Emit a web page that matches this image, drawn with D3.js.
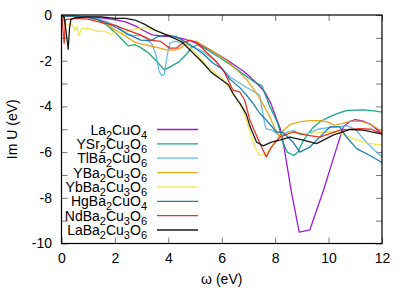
<!DOCTYPE html>
<html>
<head>
<meta charset="utf-8">
<script src="https://cdn.jsdelivr.net/npm/d3@7"></script>
<style>
body { margin: 0; background: #fff; }
svg { font-family: "Liberation Sans", Arial, sans-serif; }
</style>
</head>
<body>
<div id="chart"></div>
<script>
const width = 407,
height = 290,
margin = { top: 15, right: 25, bottom: 46.5, left: 61.5 };

// series labels (digits become subscripts) and gnuplot colours
const names = ["La2CuO4", "YSr2Cu3O6", "TlBa2CuO6", "YBa2Cu3O6", "YbBa2Cu3O6", "HgBa2CuO4", "NdBa2Cu3O6", "LaBa2Cu3O6"];
const colors = ["#9400d3", "#009e73", "#56b4e9", "#e69f00", "#f0e442", "#0072b2", "#e51e10", "#000000"];

const xTicks = [0, 2, 4, 6, 8, 10, 12];
const yTicks = [-10, -9, -8, -7, -6, -5, -4, -3, -2, -1, 0];

// [omega (eV), Im U (eV)]
const la2cuo4 = [[0,0],[0.05,-0.3],[0.1,-0.05],[0.5,-0.05],[1,-0.08],[1.5,-0.12],[2,-0.2],[2.4,-0.3],[2.8,-0.5],[3.1,-0.7],[3.4,-0.87],[3.8,-0.93],[4.1,-0.95],[4.6,-1.05],[5.2,-1.3],[5.6,-1.55],[6.2,-1.97],[6.8,-2.45],[7.1,-2.75],[7.4,-3.1],[7.6,-3.35],[7.85,-3.9],[8.05,-4.55],[8.2,-5.0],[8.35,-5.9],[8.6,-7.7],[8.9,-9.5],[9.3,-9.4],[9.8,-7.7],[10.2,-6.2],[10.55,-4.9],[10.8,-4.65],[11.0,-4.58],[11.3,-4.65],[11.6,-4.8],[12,-5.2]];
const ysr2cu3o6 = [[0,0],[0.1,-0.05],[0.5,-0.05],[1.0,-0.1],[1.35,-0.2],[1.7,-0.45],[2.0,-0.75],[2.25,-1.05],[2.5,-1.35],[2.75,-1.3],[3.0,-1.45],[3.25,-1.65],[3.5,-1.95],[3.85,-2.4],[4.1,-2.25],[4.4,-2.05],[4.65,-1.75],[4.9,-1.4],[5.1,-1.3],[5.5,-1.55],[5.9,-1.85],[6.3,-2.15],[6.7,-2.5],[7.0,-2.75],[7.25,-2.95],[7.5,-3.1],[7.8,-4.0],[8.1,-4.75],[8.3,-5.6],[8.45,-6.0],[8.7,-6.15],[8.85,-6.0],[9.05,-5.5],[9.4,-4.95],[9.7,-4.65],[10.05,-4.45],[10.4,-4.28],[10.7,-4.17],[11.3,-4.15],[11.7,-4.2],[12,-4.25]];
const tlba2cuo6 = [[0,0],[0.1,-0.05],[0.5,-0.05],[1.0,-0.1],[1.35,-0.15],[1.7,-0.3],[2.1,-0.5],[2.45,-0.85],[2.7,-0.9],[2.95,-0.88],[3.2,-1.05],[3.4,-1.3],[3.55,-1.8],[3.65,-2.45],[3.75,-2.65],[3.85,-2.6],[3.95,-1.8],[4.05,-1.25],[4.2,-1.15],[4.5,-1.2],[4.9,-1.38],[5.3,-1.6],[5.7,-1.95],[6.3,-2.7],[6.9,-3.15],[7.2,-3.35],[7.42,-3.5],[7.55,-4.4],[7.65,-4.97],[7.9,-5.05],[8.2,-5.3],[8.5,-5.1],[8.7,-5.05],[8.95,-5.25],[9.3,-5.15],[9.6,-5.0],[10.2,-4.9],[10.7,-4.85],[11.0,-5.0],[11.4,-5.55],[11.7,-5.9],[12,-6.2]];
const yba2cu3o6 = [[0,0],[0.1,-0.05],[0.5,-0.05],[1.0,-0.1],[1.35,-0.2],[1.7,-0.4],[2.0,-0.65],[2.35,-0.88],[2.75,-1.2],[3.1,-1.3],[3.5,-1.4],[3.9,-1.52],[4.25,-1.54],[4.5,-1.42],[4.75,-1.15],[5.05,-1.15],[5.4,-1.4],[5.8,-1.7],[6.2,-2.0],[6.65,-2.5],[6.95,-2.85],[7.2,-3.25],[7.45,-3.7],[7.8,-4.45],[8.0,-5.0],[8.15,-5.3],[8.3,-5.05],[8.55,-4.8],[8.9,-4.68],[9.3,-4.62],[9.7,-4.62],[10.0,-4.7],[10.2,-4.82],[10.5,-4.75],[10.8,-4.65],[11.2,-4.65],[11.6,-4.8],[12,-5.1]];
const ybba2cu3o6 = [[0,0],[0.08,-0.25],[0.15,-0.45],[0.3,-0.4],[0.42,-0.45],[0.5,-0.68],[0.57,-0.5],[0.65,-0.9],[0.75,-0.6],[1.0,-0.58],[1.35,-0.72],[1.6,-0.7],[1.85,-0.85],[2.05,-0.7],[2.3,-0.78],[2.5,-0.68],[2.8,-0.6],[3.2,-0.55],[3.6,-0.72],[4.0,-0.9],[4.5,-1.12],[5.0,-1.62],[5.5,-2.3],[6.0,-2.75],[6.4,-3.35],[6.8,-4.15],[7.05,-5.1],[7.25,-5.8],[7.42,-6.15],[7.67,-6.07],[8.05,-5.48],[8.55,-5.12],[9.17,-5.2],[9.6,-5.15],[10.17,-5.12],[10.6,-5.25],[10.92,-5.41],[11.4,-5.6],[12,-5.7]];
const hgba2cuo4 = [[0,0],[0.1,-0.05],[0.5,-0.05],[1.0,-0.1],[1.35,-0.2],[1.7,-0.35],[2.1,-0.58],[2.5,-0.85],[2.97,-1.1],[3.35,-1.12],[3.6,-0.95],[3.97,-0.88],[4.3,-0.95],[4.6,-1.15],[4.92,-1.38],[5.3,-1.7],[5.67,-2.1],[6.0,-2.35],[6.3,-2.8],[6.7,-3.2],[6.92,-3.5],[7.17,-3.87],[7.42,-4.3],[7.67,-4.6],[8.05,-5.12],[8.3,-5.15],[8.67,-5.56],[8.92,-6.0],[9.3,-5.78],[9.8,-5.19],[10.05,-4.9],[10.42,-4.9],[10.67,-5.34],[11.05,-5.85],[11.55,-6.15],[12,-6.45]];
const ndba2cu3o6 = [[0,0],[0.05,-0.6],[0.1,-1.25],[0.15,-0.2],[0.5,-0.15],[1.0,-0.18],[1.35,-0.29],[1.97,-0.44],[2.47,-0.66],[2.97,-0.88],[3.35,-1.1],[3.7,-1.15],[4.05,-1.45],[4.3,-1.45],[4.55,-1.2],[4.8,-1.1],[5.05,-1.2],[5.4,-1.6],[5.8,-2.05],[6.1,-2.5],[6.42,-3.29],[6.67,-3.36],[6.86,-3.73],[7.05,-4.6],[7.2,-5.0],[7.49,-5.78],[7.67,-6.21],[7.86,-5.78],[8.17,-5.34],[8.67,-5.12],[9.17,-5.26],[9.67,-5.34],[10.42,-5.04],[11.17,-4.97],[11.6,-5.0],[12,-5.2]];
const laba2cu3o6 = [[0,0],[0.1,-0.1],[0.18,-0.8],[0.25,-1.5],[0.3,-0.6],[0.35,-0.2],[0.5,-0.12],[1.0,-0.08],[1.5,-0.08],[2.0,-0.15],[2.4,-0.15],[2.75,-0.22],[3.1,-0.4],[3.5,-0.66],[4.0,-0.9],[4.5,-1.17],[5.0,-1.75],[5.3,-2.1],[5.6,-2.5],[5.95,-2.8],[6.25,-3.05],[6.45,-3.5],[6.7,-3.9],[6.92,-4.35],[7.05,-4.85],[7.3,-5.56],[7.55,-5.73],[7.86,-5.56],[8.17,-5.48],[8.55,-5.34],[9.05,-5.48],[9.55,-5.63],[10.17,-5.26],[10.8,-5.01],[11.3,-5.04],[11.92,-5.19],[12,-5.2]];

const series = [la2cuo4, ysr2cu3o6, tlba2cuo6, yba2cu3o6, ybba2cu3o6, hgba2cuo4, ndba2cu3o6, laba2cu3o6];

const svg = d3.select("#chart")
  .append("svg")
  .attr("width", width)
  .attr("height", height);

const xScale = d3.scaleLinear()
  .domain([0, 12])
  .range([margin.left, width - margin.right]);

const yScale = d3.scaleLinear()
  .domain([-10, 0])
  .range([height - margin.bottom, margin.top]);

const tickLen = 6;

// bottom + top ticks (inward)
svg.append("g")
  .attr("class", "x-axis")
  .attr("transform", `translate(0,${height - margin.bottom})`)
  .call(d3.axisBottom(xScale).tickValues(xTicks).tickSize(-tickLen).tickPadding(10));
svg.append("g")
  .attr("class", "x-axis-top")
  .attr("transform", `translate(0,${margin.top})`)
  .call(d3.axisTop(xScale).tickValues(xTicks).tickSize(-tickLen).tickFormat(""));

// left + right ticks
svg.append("g")
  .attr("class", "y-axis")
  .attr("transform", `translate(${margin.left},0)`)
  .call(d3.axisLeft(yScale).tickValues(yTicks).tickSize(-tickLen).tickPadding(9.5)
    .tickFormat(d => d % 2 === 0 ? d : ""));
svg.append("g")
  .attr("class", "y-axis-right")
  .attr("transform", `translate(${width - margin.right},0)`)
  .call(d3.axisRight(yScale).tickValues(yTicks).tickSize(-tickLen).tickFormat(""));

svg.selectAll(".domain").remove();
svg.selectAll(".tick line").attr("stroke", "#777").attr("stroke-width", 1);
svg.selectAll(".tick text").attr("font-size", 14).attr("fill", "#000")
  .attr("font-family", "Liberation Sans, Arial, sans-serif");

const line = d3.line()
  .x(d => xScale(d[0]))
  .y(d => yScale(d[1]));

svg.append("defs").append("clipPath").attr("id", "clip")
  .append("rect")
  .attr("x", margin.left).attr("y", margin.top)
  .attr("width", width - margin.left - margin.right)
  .attr("height", height - margin.top - margin.bottom);

svg.append("g")
  .attr("clip-path", "url(#clip)")
  .selectAll("path")
  .data(series)
  .join("path")
  .attr("fill", "none")
  .attr("stroke", (d, i) => colors[i])
  .attr("stroke-width", 1.3)
  .attr("stroke-opacity", 0.9)
  .attr("stroke-linejoin", "round")
  .attr("d", line);

// legend
const legendY = d3.scaleLinear().domain([0, 7]).range([129.5, 230]);
const legend = svg.append("g").attr("class", "legend");

function addLabel(g, label) {
  const t = g.append("text")
    .attr("x", 147)
    .attr("y", 5)
    .attr("text-anchor", "end")
    .attr("font-size", 14);
  // split into runs of letters / digits, digits as subscripts
  const parts = label.match(/[A-Za-z]+|[0-9]+/g);
  let sub = false;
  parts.forEach(p => {
    const isNum = /[0-9]/.test(p);
    const ts = t.append("tspan").text(p);
    if (isNum && !sub) { ts.attr("dy", 4).attr("font-size", 11); sub = true; }
    else if (isNum) { ts.attr("font-size", 11); }
    else if (sub) { ts.attr("dy", -4); sub = false; }
  });
}

names.forEach((n, i) => {
  const g = legend.append("g").attr("transform", `translate(0,${legendY(i)})`);
  addLabel(g, n);
  g.append("line")
    .attr("x1", 157).attr("x2", 198)
    .attr("y1", 0).attr("y2", 0)
    .attr("stroke", colors[i])
    .attr("stroke-opacity", 0.9)
    .attr("stroke-width", 1.3);
});

// frame
svg.append("rect")
  .attr("x", margin.left).attr("y", margin.top)
  .attr("width", width - margin.left - margin.right)
  .attr("height", height - margin.top - margin.bottom)
  .attr("fill", "none")
  .attr("stroke", "#000")
  .attr("stroke-width", 1.2);

svg.append("text")
  .attr("x", (margin.left + width - margin.right) / 2)
  .attr("y", 284)
  .attr("text-anchor", "middle")
  .attr("font-size", 14)
  .text("ω (eV)");

svg.append("text")
  .attr("transform", `translate(17,${(margin.top + height - margin.bottom) / 2}) rotate(-90)`)
  .attr("text-anchor", "middle")
  .attr("font-size", 14)
  .text("Im U (eV)");
</script>
</body>
</html>
